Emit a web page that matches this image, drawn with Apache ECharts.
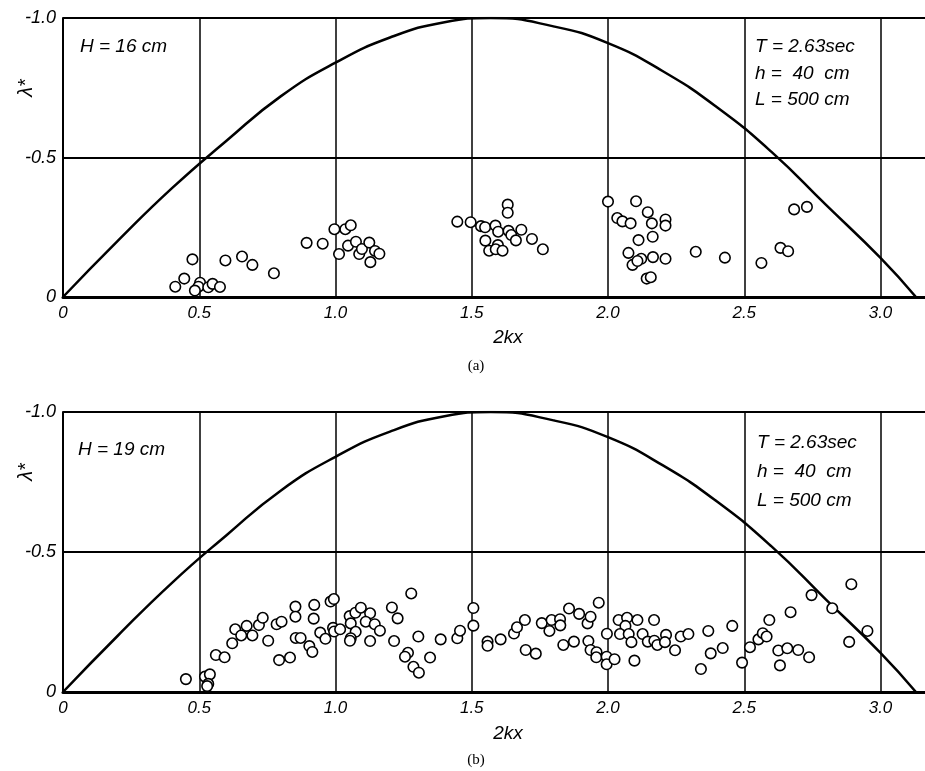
<!DOCTYPE html>
<html>
<head>
<meta charset="utf-8">
<script src="https://cdn.jsdelivr.net/npm/echarts@6/dist/echarts.min.js"></script>
<style>
  html, body { margin: 0; padding: 0; background: #fff; }
  #chart { width: 925px; height: 771px; }
</style>
</head>
<body>
<div id="chart"></div>
<script>
// theoretical curve
var curveX = [0, 0.2, 0.4, 0.6, 0.8, 1.0, 1.2, 1.4, 1.57, 1.8, 2.0, 2.2, 2.4, 2.6, 2.8, 3.0, 3.13]
var curveY = [0, -0.20, -0.39, -0.56, -0.72, -0.84, -0.93, -0.985, -1.0, -0.97, -0.91, -0.81, -0.68, -0.52, -0.33, -0.14, 0]

// (a) H = 16 cm
var pointsA = [
  [0.475, -0.135], [0.445, -0.066], [0.412, -0.037], [0.503, -0.051], [0.497, -0.037],
  [0.484, -0.023], [0.533, -0.035], [0.549, -0.047], [0.576, -0.036], [0.596, -0.131],
  [0.657, -0.145], [0.695, -0.115], [0.774, -0.085], [0.894, -0.194], [0.953, -0.191],
  [0.996, -0.243], [1.036, -0.243], [1.056, -0.257], [1.013, -0.154], [1.046, -0.184],
  [1.075, -0.198], [1.087, -0.154], [1.097, -0.172], [1.124, -0.195], [1.145, -0.165],
  [1.161, -0.155], [1.128, -0.125],
  [1.447, -0.270], [1.496, -0.268], [1.534, -0.254], [1.549, -0.250], [1.587, -0.256],
  [1.632, -0.331], [1.632, -0.302], [1.597, -0.234], [1.635, -0.237], [1.645, -0.222],
  [1.682, -0.241], [1.662, -0.203], [1.550, -0.202], [1.596, -0.186], [1.564, -0.166],
  [1.588, -0.171], [1.613, -0.166], [1.721, -0.208], [1.761, -0.171],
  [2.000, -0.342], [2.103, -0.343], [2.034, -0.283], [2.053, -0.271], [2.083, -0.264],
  [2.146, -0.304], [2.161, -0.264], [2.211, -0.278], [2.211, -0.256], [2.112, -0.204],
  [2.164, -0.216], [2.075, -0.158], [2.090, -0.115], [2.122, -0.137], [2.108, -0.129],
  [2.165, -0.143], [2.211, -0.137], [2.142, -0.066], [2.157, -0.071], [2.322, -0.162],
  [2.429, -0.141], [2.563, -0.122], [2.633, -0.176], [2.661, -0.164], [2.683, -0.314],
  [2.730, -0.323]
]

// (b) H = 19 cm
var pointsB = [
  [0.451, -0.046], [0.521, -0.055], [0.539, -0.063], [0.533, -0.029], [0.529, -0.021],
  [0.561, -0.132], [0.593, -0.124], [0.621, -0.174], [0.632, -0.224], [0.654, -0.202],
  [0.674, -0.236], [0.695, -0.202], [0.719, -0.239], [0.733, -0.265], [0.753, -0.183],
  [0.784, -0.242], [0.802, -0.251], [0.793, -0.114], [0.833, -0.123], [0.853, -0.305],
  [0.853, -0.269], [0.854, -0.193], [0.872, -0.193], [0.904, -0.164], [0.915, -0.143],
  [0.922, -0.311], [0.920, -0.262], [0.944, -0.212], [0.963, -0.190], [0.982, -0.323],
  [0.994, -0.332], [0.991, -0.229], [0.995, -0.216], [1.017, -0.224], [1.052, -0.271],
  [1.056, -0.245], [1.073, -0.283], [1.093, -0.301], [1.127, -0.281], [1.111, -0.251],
  [1.144, -0.242], [1.074, -0.215], [1.056, -0.192], [1.053, -0.183], [1.127, -0.182],
  [1.163, -0.219], [1.207, -0.302], [1.228, -0.263], [1.215, -0.182], [1.278, -0.352],
  [1.304, -0.198], [1.266, -0.140], [1.255, -0.126], [1.286, -0.090], [1.306, -0.069],
  [1.347, -0.123], [1.386, -0.188], [1.447, -0.192], [1.457, -0.219], [1.506, -0.300],
  [1.506, -0.237], [1.558, -0.180], [1.558, -0.165], [1.606, -0.188], [1.655, -0.209],
  [1.666, -0.231], [1.695, -0.257], [1.698, -0.150], [1.735, -0.137], [1.757, -0.246],
  [1.785, -0.218], [1.793, -0.257], [1.824, -0.260], [1.825, -0.238], [1.836, -0.168],
  [1.857, -0.298], [1.875, -0.180], [1.894, -0.279], [1.925, -0.245], [1.936, -0.269],
  [1.966, -0.319], [1.928, -0.182], [1.936, -0.150], [1.958, -0.142], [1.957, -0.124],
  [1.995, -0.126], [1.995, -0.099], [2.024, -0.117], [1.996, -0.208], [2.039, -0.257],
  [2.070, -0.265], [2.108, -0.257], [2.064, -0.236], [2.044, -0.207], [2.076, -0.207],
  [2.086, -0.178], [2.127, -0.207], [2.146, -0.180], [2.169, -0.257], [2.170, -0.183],
  [2.097, -0.112], [2.181, -0.168], [2.213, -0.204], [2.209, -0.178], [2.246, -0.149],
  [2.267, -0.198], [2.295, -0.207], [2.368, -0.218], [2.377, -0.138], [2.341, -0.082],
  [2.421, -0.157], [2.456, -0.236], [2.492, -0.105], [2.521, -0.160], [2.552, -0.188],
  [2.568, -0.210], [2.582, -0.198], [2.592, -0.257], [2.625, -0.148], [2.658, -0.156],
  [2.631, -0.095], [2.698, -0.150], [2.738, -0.124], [2.670, -0.285], [2.747, -0.346],
  [2.823, -0.299], [2.893, -0.385], [2.885, -0.179], [2.952, -0.218]
]

var xLabels = ['0', '0.5', '1.0', '1.5', '2.0', '2.5', '3.0']
var yLabels = ['-1.0', '-0.5', '0']

var font = '"Liberation Sans", Arial, sans-serif'
var chart = echarts.init(document.getElementById('chart'))

function xAxis(idx) {
  return {
    gridIndex: idx,
    type: 'value',
    min: 0,
    max: 3.2,
    interval: 0.5,
    axisLine: { lineStyle: { color: '#000', width: 3 } },
    axisTick: { show: false },
    splitLine: { lineStyle: { color: '#000', width: 1.5 } },
    axisLabel: {
      color: '#000',
      fontFamily: font,
      fontStyle: 'italic',
      fontSize: 17,
      margin: 8,
      showMaxLabel: false,
      formatter: function (v) {
        var i = Math.round(v / 0.5)
        return Math.abs(i * 0.5 - v) < 1e-6 ? (xLabels[i] || '') : ''
      }
    }
  }
}

function yAxis(idx) {
  return {
    gridIndex: idx,
    type: 'value',
    min: -1,
    max: 0,
    interval: 0.5,
    inverse: true,
    axisLine: { lineStyle: { color: '#000', width: 2 } },
    axisTick: { show: false },
    splitLine: { lineStyle: { color: '#000', width: 1.8 } },
    axisLabel: {
      color: '#000',
      fontFamily: font,
      fontStyle: 'italic',
      fontSize: 18,
      margin: 7,
      formatter: function (v) {
        return yLabels[Math.round((v + 1) / 0.5)]
      }
    }
  }
}

var curve = curveX.map(function (x, i) { return [x, curveY[i]] })

function curveSeries(idx) {
  return {
    type: 'line',
    xAxisIndex: idx,
    yAxisIndex: idx,
    data: curve,
    smooth: true,
    showSymbol: false,
    silent: true,
    lineStyle: { color: '#000', width: 2.5 },
    z: 3
  }
}

function pointSeries(idx, data) {
  return {
    type: 'scatter',
    xAxisIndex: idx,
    yAxisIndex: idx,
    data: data,
    symbol: 'circle',
    symbolSize: 10.5,
    itemStyle: { color: '#fff', borderColor: '#000', borderWidth: 1.6, opacity: 1 },
    z: 4
  }
}

function label(x, y, text, size, align) {
  return {
    type: 'text', x: x, y: y, z: 10,
    style: {
      text: text,
      fill: '#000',
      font: 'italic ' + size + 'px ' + font,
      textAlign: align || 'left',
      textVerticalAlign: 'middle'
    }
  }
}

function caption(x, y, text) {
  return {
    type: 'text', x: x, y: y, z: 10,
    style: { text: text, fill: '#000', font: '15px "Liberation Serif", serif', textAlign: 'center', textVerticalAlign: 'middle' }
  }
}

function yName(x, y) {
  return {
    type: 'text', x: x, y: y, rotation: Math.PI / 2, z: 10,
    style: { text: 'λ*', fill: '#000', font: 'italic 20px ' + font, textAlign: 'center', textVerticalAlign: 'middle' }
  }
}

chart.setOption({
  backgroundColor: '#fff',
  animation: false,
  grid: [
    { left: 63, top: 18, width: 872, height: 279, outerBoundsMode: 'none' },
    { left: 63, top: 412, width: 872, height: 280, outerBoundsMode: 'none' }
  ],
  xAxis: [xAxis(0), xAxis(1)],
  yAxis: [yAxis(0), yAxis(1)],
  series: [
    curveSeries(0), pointSeries(0, pointsA),
    curveSeries(1), pointSeries(1, pointsB)
  ],
  graphic: [
    label(80, 47, 'H = 16 cm', 19),
    label(755, 47, 'T = 2.63sec', 19),
    label(755, 74, 'h =  40  cm', 19),
    label(755, 100, 'L = 500 cm', 19),
    label(508, 338, '2kx', 19, 'center'),
    yName(26, 88),
    caption(476, 366, '(a)'),

    label(78, 450, 'H = 19 cm', 19),
    label(757, 443, 'T = 2.63sec', 19),
    label(757, 472, 'h =  40  cm', 19),
    label(757, 501, 'L = 500 cm', 19),
    label(508, 734, '2kx', 19, 'center'),
    yName(26, 472),
    caption(476, 760, '(b)')
  ]
})
</script>
</body>
</html>
